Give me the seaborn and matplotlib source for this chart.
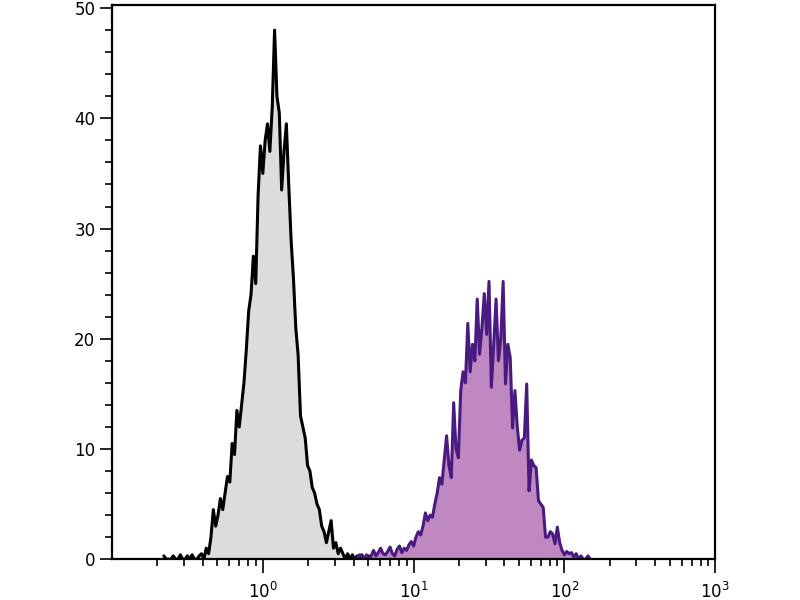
import numpy as np
import pandas as pd
import matplotlib
matplotlib.use("Agg")
import matplotlib.pyplot as plt
import seaborn as sns
from matplotlib.ticker import LogLocator, LogFormatterMathtext, MultipleLocator, NullFormatter

# 256 log channels over 4 decades (0.1 .. 1000)
n_channels = 256
x_min, x_max = 0.1, 1000

# control (unstained) histogram, counts starting at channel 22
grey_start = 22
grey_counts = [0.3, 0, 0, 0, 0.3, 0, 0, 0.4, 0, 0, 0.3, 0, 0.4, 0, 0, 0.3,
               0.5, 0, 1, 0.5, 2, 4.5, 3, 4, 5.5, 4.5, 6, 7.5, 7, 10.5, 9.5, 13.5,
               12, 14, 16, 19, 22.5, 24, 27.5, 25, 33, 37.5, 35, 38, 39.5, 37, 41, 48,
               42, 40.5, 33.5, 37, 39.5, 34, 29, 25.5, 21, 18.5, 13, 12, 11, 8.5, 8, 6.5,
               6, 5, 4.5, 3, 2.5, 1.5, 2.5, 3.5, 1, 1.5, 0.5, 1, 0.5, 0, 0.5, 0,
               0.4, 0, 0.3, 0, 0.4, 0, 0, 0.3, 0]

# stained sample histogram, counts starting at channel 104
purple_start = 104
purple_counts = [0, 0.4, 0.3, 0, 0.4, 0, 0.3, 0.8, 0.3, 0.6, 1, 0.5, 0.4, 0.7, 1.1, 0.5,
                 0.3, 0.9, 1.2, 0.6, 1, 0.8, 1.3, 1.6, 1.2, 2, 2.5, 2.2, 3, 4.2, 3.5, 4,
                 3.8, 5, 6, 7.4, 6.8, 9, 11.2, 8.5, 7.4, 14.2, 10, 9.2, 15.3, 17, 16, 21.4,
                 17, 19.5, 18, 23.6, 18.6, 21, 24.1, 20.4, 25.2, 15.6, 19.5, 23.6, 18, 20, 25.2, 15.9,
                 19.5, 18.3, 11.9, 15.3, 12, 9.9, 10.8, 11, 15.9, 6.2, 9, 8.5, 8.3, 5.3, 5, 4.7,
                 2, 2, 2.5, 2.3, 1.4, 2.9, 1.5, 0.8, 0.4, 0.7, 0.5, 0.6, 0.2, 0.5, 0, 0.3,
                 0, 0, 0.3, 0]

channels = np.logspace(np.log10(x_min), np.log10(x_max), n_channels + 1)[:-1]


def make_df(start, counts):
    return pd.DataFrame({"x": channels[start:start + len(counts)], "count": counts})


grey_df = make_df(grey_start, grey_counts)
purple_df = make_df(purple_start, purple_counts)

sns.set_style("white")
plt.rcParams["font.family"] = ["DejaVu Sans"]

fig = plt.figure(figsize=(8, 6), dpi=100)
ax = fig.add_axes([0.14, 0.068, 0.754, 0.924])

ax.fill_between(grey_df["x"], grey_df["count"], color="#dcdcdc", lw=0)
sns.lineplot(data=grey_df, x="x", y="count", color="black", lw=2.2, ax=ax)
ax.fill_between(purple_df["x"], purple_df["count"], color="#bf88c0", lw=0)
sns.lineplot(data=purple_df, x="x", y="count", color="#4b1a80", lw=2.2, ax=ax)

ax.set_xscale("log")
ax.set_xlim(x_min, x_max)
ax.set_ylim(0, 50.3)
ax.set_xlabel("")
ax.set_ylabel("")

ax.xaxis.set_major_locator(LogLocator(base=10, numticks=10))
ax.xaxis.set_major_formatter(LogFormatterMathtext())
ax.xaxis.set_minor_locator(LogLocator(base=10, subs=np.arange(2, 10), numticks=20))
ax.xaxis.set_minor_formatter(NullFormatter())
ax.set_xticks([1, 10, 100, 1000])

ax.yaxis.set_major_locator(MultipleLocator(10))
ax.yaxis.set_minor_locator(MultipleLocator(2))

ax.tick_params(axis="both", which="major", direction="out", width=1.2, color="black",
               labelsize=12, labelcolor="black", bottom=True, left=True, top=False, right=False)
ax.tick_params(axis="x", which="major", length=10, pad=6)
ax.tick_params(axis="y", which="major", length=9, pad=3)
ax.tick_params(axis="both", which="minor", direction="out", width=1.2, length=5, color="black",
               bottom=True, left=True, top=False, right=False)

for side in ["left", "right", "top", "bottom"]:
    ax.spines[side].set_visible(True)
    ax.spines[side].set_linewidth(1.6)
    ax.spines[side].set_color("black")

fig.savefig("out.png", dpi=100)
